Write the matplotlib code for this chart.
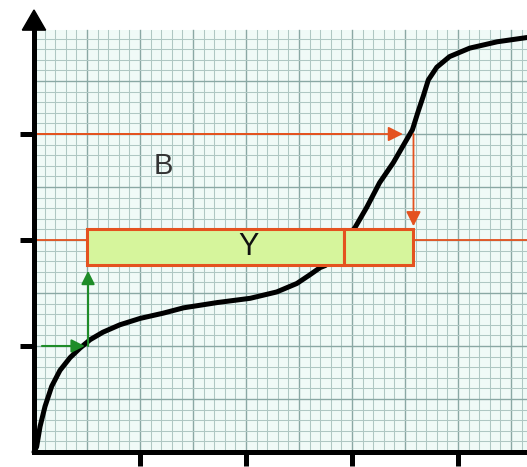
import numpy as np
import matplotlib
matplotlib.use('Agg')
import matplotlib.pyplot as plt
from matplotlib.patches import Rectangle

# S-shaped curve
curve_x = [0.0, 0.025, 0.057, 0.104, 0.167, 0.245, 0.34, 0.434, 0.53, 0.65, 0.81, 1.00,
           1.22, 1.41, 1.73, 2.04, 2.29, 2.48, 2.60, 2.70, 2.75, 2.89, 3.03, 3.14, 3.26,
           3.39, 3.50, 3.57, 3.62, 3.67, 3.72, 3.80, 3.92, 4.11, 4.37, 4.65]
curve_y = [0.0, 0.05, 0.24, 0.43, 0.62, 0.77, 0.89, 0.98, 1.06, 1.13, 1.20, 1.26,
           1.31, 1.36, 1.41, 1.45, 1.51, 1.59, 1.67, 1.74, 1.76, 1.94, 2.12, 2.31, 2.54,
           2.73, 2.92, 3.04, 3.20, 3.35, 3.51, 3.63, 3.73, 3.81, 3.87, 3.91]

# reference levels and box
level_b = 3.0
level_y = 2.0
level_g = 1.0
x_g = 0.5
x_b = 3.58
box_left, box_split, box_right = 0.5, 2.92, 3.58
box_low, box_high = 1.76, 2.10
xticks = [1, 2, 3, 4]
yticks = [1, 2, 3]

x_max, y_max = 4.65, 3.98
red = '#e4521f'
green = '#1e8c28'

fig = plt.figure(figsize=(5.27, 4.67), dpi=100)
ax = fig.add_axes([0, 0, 1, 1])
ax.set_xlim(-34 / 106, 493 / 106)
ax.set_ylim(-15 / 106, 452 / 106)
ax.set_facecolor('white')

# graph paper
ax.add_patch(Rectangle((0, 0), x_max, y_max, facecolor='#f0faf7', edgecolor='none', zorder=0))
for v in np.arange(0, 47) / 10:
    strong = abs(v * 2 - round(v * 2)) < 1e-6
    ax.plot([v, v], [0, y_max], color='#8aa8a4' if strong else '#afc7c3',
            lw=1.0 if strong else 0.75, zorder=1)
for v in np.arange(0, 40) / 10:
    strong = abs(v * 2 - round(v * 2)) < 1e-6
    ax.plot([0, x_max], [v, v], color='#8aa8a4' if strong else '#afc7c3',
            lw=1.0 if strong else 0.75, zorder=1)

# axes
for s in ['top', 'right']:
    ax.spines[s].set_visible(False)
ax.spines['left'].set_position(('data', 0))
ax.spines['bottom'].set_position(('data', 0))
ax.spines['left'].set_bounds(0, y_max)
ax.spines['bottom'].set_bounds(0, x_max)
for s in ['left', 'bottom']:
    ax.spines[s].set_linewidth(3.6)
    ax.spines[s].set_zorder(6)
ax.set_xticks(xticks)
ax.set_yticks(yticks)
ax.tick_params(direction='out', length=10, width=3.6, labelbottom=False, labelleft=False)
ax.fill([-0.11, 0.11, 0.0], [3.98, 3.98, 4.17], color='black', zorder=6)

# horizontal level lines
ax.plot([0, level_b], [level_b, level_b], color=red, lw=1.3, zorder=3)
ax.plot([0, x_max], [level_y, level_y], color=red, lw=1.3, zorder=3)

# curve
ax.plot(curve_x, curve_y, color='black', lw=3.6, solid_capstyle='round',
        solid_joinstyle='round', zorder=4)

# red arrows
ax.annotate('', xy=(x_b - 0.1, level_b), xytext=(0, level_b),
            arrowprops=dict(arrowstyle='-|>', color=red, lw=1.3, mutation_scale=22,
                            shrinkA=0, shrinkB=0), zorder=5)
ax.annotate('', xy=(x_b, box_high + 0.03), xytext=(x_b, level_b),
            arrowprops=dict(arrowstyle='-|>', color=red, lw=1.3, mutation_scale=22,
                            shrinkA=0, shrinkB=0), zorder=5)

# box
ax.add_patch(Rectangle((box_left, box_low), box_split - box_left, box_high - box_low,
                       facecolor='#d6f59c', edgecolor=red, lw=2.2, zorder=5))
ax.add_patch(Rectangle((box_split, box_low), box_right - box_split, box_high - box_low,
                       facecolor='#d6f59c', edgecolor=red, lw=2.2, zorder=5))
ax.text(2.02, 1.93, 'Y', fontsize=22, family='Liberation Sans',
        ha='center', va='center', color='#111111', zorder=6)
ax.text(1.22, 2.70, 'B', fontsize=21, family='Liberation Sans',
        ha='center', va='center', color='#333333', zorder=6)

# green arrows
ax.annotate('', xy=(x_g - 0.02, level_g), xytext=(0.075, level_g),
            arrowprops=dict(arrowstyle='-|>', color=green, lw=1.5, mutation_scale=20,
                            shrinkA=0, shrinkB=0), zorder=5)
ax.annotate('', xy=(x_g + 0.01, box_low - 0.05), xytext=(x_g + 0.01, level_g),
            arrowprops=dict(arrowstyle='-|>', color=green, lw=1.5, mutation_scale=20,
                            shrinkA=0, shrinkB=0), zorder=5)

fig.savefig('out.png', dpi=100)
